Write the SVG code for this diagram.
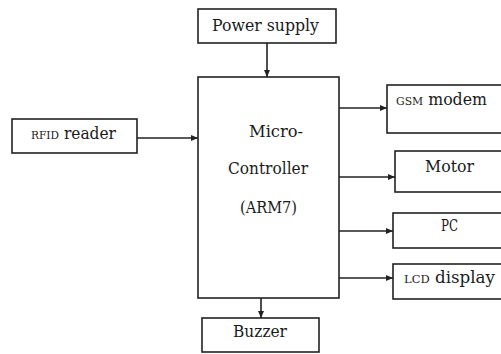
<svg xmlns="http://www.w3.org/2000/svg" width="501" height="354" viewBox="0 0 501 354">
<style>
.box{fill:#fff;stroke:#222;stroke-width:1.6}
.t{font-family:"DejaVu Serif","Liberation Serif",serif;font-size:16px;fill:#1a1a1a}
.sc{font-size:11px}
.c{fill:none;stroke:#222;stroke-width:1.6}
</style>
<defs>
<marker id="ah" markerUnits="userSpaceOnUse" markerWidth="8" markerHeight="8" refX="7" refY="4" orient="auto">
<path d="M0,1 L7,4 L0,7 z" fill="#222"/>
</marker>
</defs>
<rect width="501" height="354" fill="#fff"/>
<g id="connectors">
<path class="c" d="M267 43 V77" marker-end="url(#ah)"/>
<path class="c" d="M137 138 H198" marker-end="url(#ah)"/>
<path class="c" d="M339 108 H387" marker-end="url(#ah)"/>
<path class="c" d="M339 177 H395" marker-end="url(#ah)"/>
<path class="c" d="M339 231 H393" marker-end="url(#ah)"/>
<path class="c" d="M339 278 H393" marker-end="url(#ah)"/>
<path class="c" d="M261 298 V318" marker-end="url(#ah)"/>
</g>
<g id="power">
<rect class="box" x="198" y="9" width="138" height="34"/>
<text class="t" x="212" y="31" textLength="107" lengthAdjust="spacingAndGlyphs">Power supply</text>
</g>
<g id="rfid">
<rect class="box" x="12" y="119" width="125" height="34"/>
<text class="t" x="31" y="139" textLength="85" lengthAdjust="spacingAndGlyphs"><tspan class="sc">RFID</tspan> reader</text>
</g>
<g id="mcu">
<rect class="box" x="198" y="77" width="141" height="221"/>
<text class="t" x="249" y="137" textLength="54" lengthAdjust="spacingAndGlyphs">Micro-</text>
<text class="t" x="228" y="174" textLength="80" lengthAdjust="spacingAndGlyphs">Controller</text>
<text class="t" x="240" y="213" font-size="15" textLength="57" lengthAdjust="spacingAndGlyphs">(ARM7)</text>
</g>
<g id="gsm">
<rect class="box" x="387" y="85" width="130" height="48"/>
<text class="t" x="396" y="105" textLength="91" lengthAdjust="spacingAndGlyphs"><tspan class="sc">GSM</tspan> modem</text>
</g>
<g id="motor">
<rect class="box" x="395" y="151" width="130" height="41"/>
<text class="t" x="425" y="172" textLength="49" lengthAdjust="spacingAndGlyphs">Motor</text>
</g>
<g id="pc">
<rect class="box" x="393" y="213" width="130" height="35"/>
<text class="t" x="441" y="231" font-size="13" textLength="17" lengthAdjust="spacingAndGlyphs">PC</text>
</g>
<g id="lcd">
<rect class="box" x="393" y="264" width="130" height="35"/>
<text class="t" x="404" y="283" textLength="91" lengthAdjust="spacingAndGlyphs"><tspan class="sc">LCD</tspan> display</text>
</g>
<g id="buzzer">
<rect class="box" x="202" y="318" width="117" height="34"/>
<text class="t" x="233" y="337" textLength="54" lengthAdjust="spacingAndGlyphs">Buzzer</text>
</g>
</svg>
